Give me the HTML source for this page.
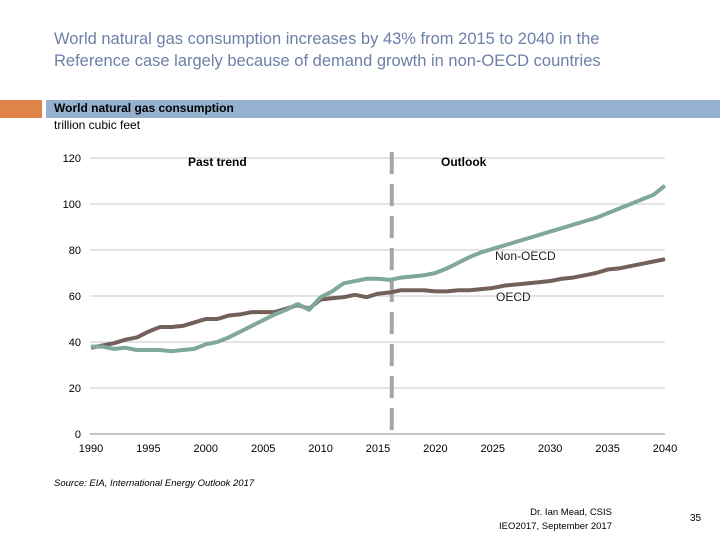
<!DOCTYPE html>
<html><head><meta charset="utf-8"><style>
body{margin:0;width:720px;height:540px;background:#fff;font-family:"Liberation Sans",sans-serif;position:relative;overflow:hidden}
.a{position:absolute;white-space:nowrap}
</style></head><body>
<div class="a" style="left:54px;top:28px;font-size:16.5px;color:#6d7fa8;line-height:22px">World natural gas consumption increases by 43% from 2015 to 2040 in the<br>Reference case largely because of demand growth in non-OECD countries</div>
<div class="a" style="left:0;top:100px;width:42px;height:18px;background:#e0834a"></div>
<div class="a" style="left:46px;top:100px;width:674px;height:18px;background:#94b1cf"></div>
<div class="a" style="left:54px;top:101px;font-size:12px;font-weight:bold;color:#000">World natural gas consumption</div>
<div class="a" style="left:54px;top:118px;font-size:12px;color:#000">trillion cubic feet</div>
<svg class="a" style="left:0;top:0" width="720" height="540" id="c"></svg>
<div class="a" style="left:54px;top:478px;font-size:9.5px;font-style:italic">Source: EIA, International Energy Outlook 2017</div>
<div class="a" style="left:494px;top:506px;font-size:9.5px;text-align:right;line-height:14px;width:118px">Dr. Ian Mead, CSIS<br>IEO2017, September 2017</div>
<div class="a" style="left:690px;top:513px;font-size:10px">35</div>
<script>
const years=[];for(let y=1990;y<=2040;y++)years.push(y);
const nonOecd=[38,38,37,37.5,36.5,36.5,36.5,36,36.5,37,39,40,42,44.5,47,49.5,52,54,56.5,54,59.5,62,65.5,66.5,67.5,67.5,67,68,68.5,69,70,72,74.5,77,79,80.5,82,83.5,85,86.5,88,89.5,91,92.5,94,96,98,100,102,104,108];
const oecd=[37.5,38.5,39.5,41,42,44.5,46.5,46.5,47,48.5,50,50,51.5,52,53,53,53,54.5,56,54.5,58.5,59,59.5,60.5,59.5,61,61.5,62.5,62.5,62.5,62,62,62.5,62.5,63,63.5,64.5,65,65.5,66,66.5,67.5,68,69,70,71.5,72,73,74,75,76];
const yTicks=[0,20,40,60,80,100,120];
const xTicks=[1990,1995,2000,2005,2010,2015,2020,2025,2030,2035,2040];
const divider=2016.2;
const X=v=>91+(v-1990)*(574/50), Y=v=>434-v*2.3;
const s=document.getElementById('c');const NS='http://www.w3.org/2000/svg';
function el(t,a){const e=document.createElementNS(NS,t);for(const k in a)e.setAttribute(k,a[k]);s.appendChild(e);return e;}
yTicks.forEach(v=>{
 const g=el('line',{x1:90,x2:665,y1:Y(v),y2:Y(v),stroke:v?'#c8c8c8':'#888','stroke-width':1});
 
 
 const t=el('text',{x:81,y:Y(v)+4,'text-anchor':'end','font-size':11,'font-family':'Liberation Sans'});t.textContent=v;
 
 
});
xTicks.forEach(v=>{
 const t=el('text',{x:X(v),y:452,'text-anchor':'middle','font-size':11,'font-family':'Liberation Sans'});t.textContent=v;
 
 
});
const dl=el('line',{x1:X(divider),x2:X(divider),y1:152,y2:437,stroke:'#a6a6a6','stroke-width':4,'stroke-dasharray':'22,10'});


function line(d,c,n){const p=el('polyline',{points:d.map((v,i)=>X(years[i])+','+Y(v)).join(' '),fill:'none',stroke:c,'stroke-width':4,'stroke-linejoin':'round'});
 
 }
line(oecd,'#74605a','oecd-line');
line(nonOecd,'#7fa89a','non-oecd-line');
[['Past trend',188,166,'past-trend-label'],['Outlook',441,166,'outlook-label'],['Non-OECD',495,260,'non-oecd-label'],['OECD',496,301,'oecd-label']].forEach(a=>{
 const t=el('text',{x:a[1],y:a[2],'font-size':12,'font-family':'Liberation Sans','font-weight':a[0].includes('OECD')?'normal':'bold',fill:a[0].includes('OECD')?'#222':'#000'});t.textContent=a[0];
 
 
});
</script>
</body></html>
